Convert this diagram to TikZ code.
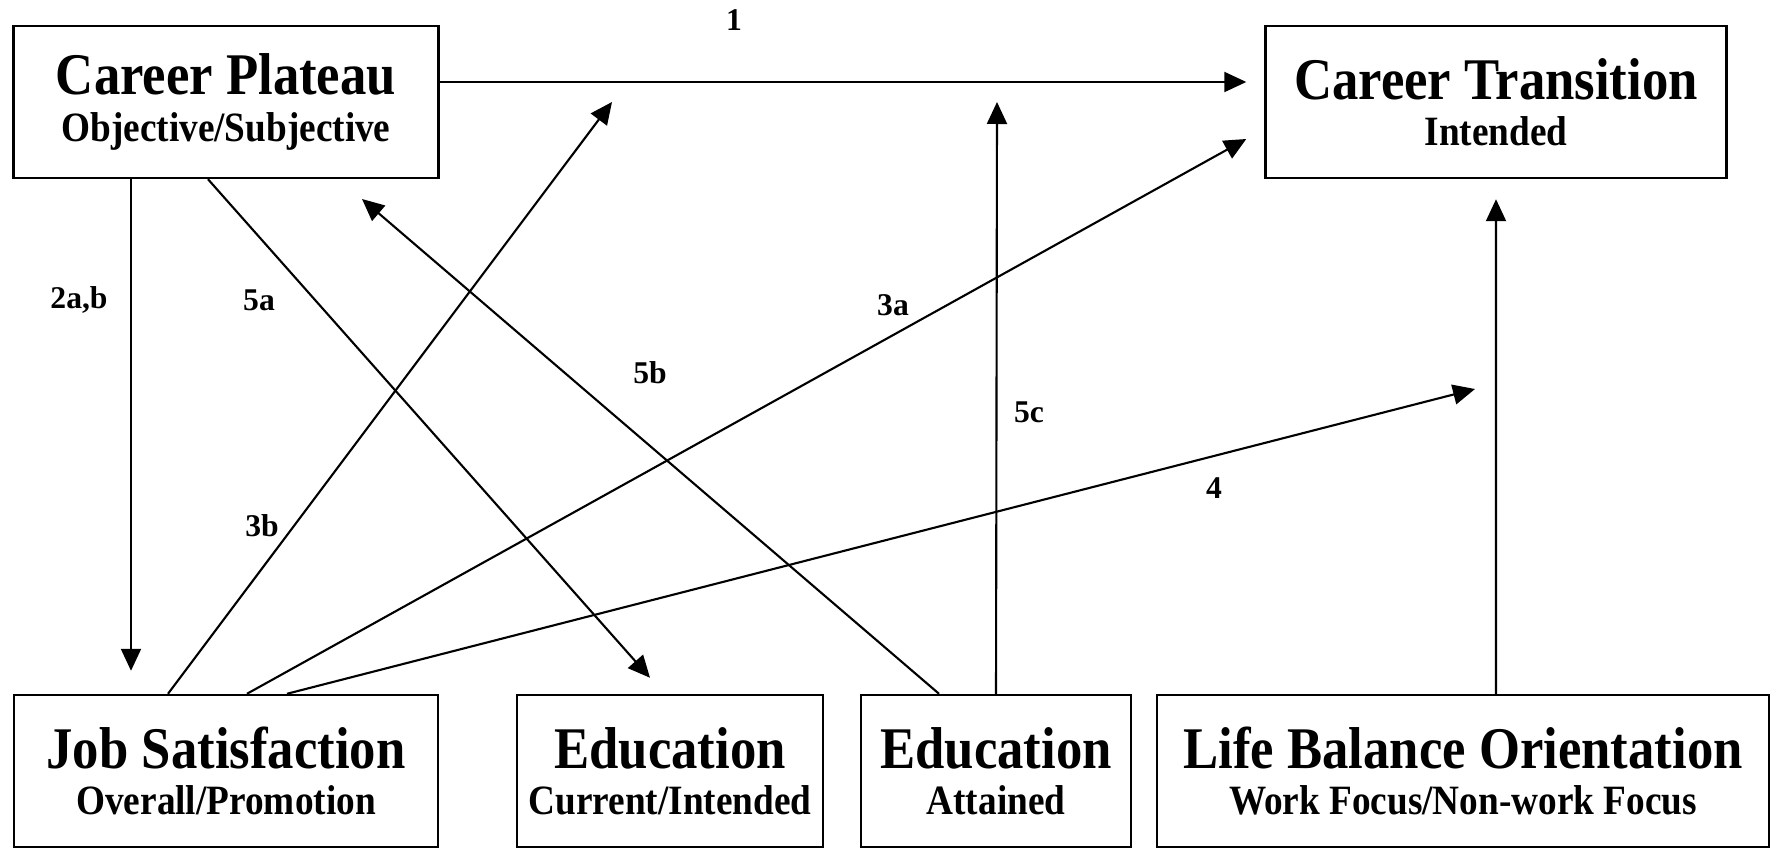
\documentclass[tikz,border=0pt]{standalone}
\usepackage{graphicx}
\usepackage{fontspec}
\setmainfont{Liberation Serif}
\usetikzlibrary{arrows.meta}

\tikzset{
    box/.style={draw, line width=0.7pt, minimum height=15.2mm, inner sep=0pt, align=center,
        font=\bfseries\fontsize{10.6}{13.2}\selectfont},
    arr/.style={line width=0.6pt, -{Triangle[length=2.2mm, width=2mm]}},
    lbl/.style={font=\bfseries\fontsize{9}{9}\selectfont},
}
\newcommand{\boxtitle}[1]{\scalebox{1}[1.12]{\fontsize{15}{15}\selectfont #1}}
\newcommand{\boxsub}[1]{\scalebox{1}[1.12]{#1}}

\begin{document}
\begin{tikzpicture}[x=0.1mm, y=-0.1mm]
            \useasboundingbox (0, 0) rectangle (1783, 851);
            \node[box, minimum width=42.5mm] (plateau) at (226, 102) {\boxtitle{Career Plateau}\\ \boxsub{Objective/Subjective}};
            \node[box, minimum width=46.1mm] (transition) at (1496, 102) {\boxtitle{Career Transition}\\ \boxsub{Intended}};
            \node[box, minimum width=42.4mm] (jobsat) at (226, 771) {\boxtitle{Job Satisfaction}\\ \boxsub{Overall/Promotion}};
            \node[box, minimum width=30.6mm] (educur) at (670, 771) {\boxtitle{Education}\\ \boxsub{Current/Intended}};
            \node[box, minimum width=27mm] (eduatt) at (996, 771) {\boxtitle{Education}\\ \boxsub{Attained}};
            \node[box, minimum width=61.2mm] (balance) at (1463, 771) {\boxtitle{Life Balance Orientation}\\ \boxsub{Work Focus/Non-work Focus}};
            \coordinate (tip3b) at (612, 102);
            \coordinate (tip5b) at (362, 199);
            \coordinate (tip5c) at (997, 102);
            \coordinate (tip4) at (1475, 389);
            \draw[arr] ([yshift=2mm]plateau.east) -- ([xshift=-1.8mm, yshift=2mm]transition.west);
            \draw[arr] ([xshift=-9.5mm]plateau.south) -- ([xshift=-9.5mm, yshift=2.3mm]jobsat.north);
            \draw[arr] ([xshift=-1.8mm]plateau.south) -- ([xshift=-2mm, yshift=1.6mm]educur.north);
            \draw[arr] ([xshift=-5.8mm]jobsat.north) -- (tip3b);
            \draw[arr] ([xshift=-5.7mm]eduatt.north) -- (tip5b);
            \draw[arr] ([xshift=2.1mm]jobsat.north) -- ([xshift=-1.8mm, yshift=-3.7mm]transition.west);
            \draw[arr] (eduatt.north) -- (tip5c);
            \draw[arr] ([xshift=6.1mm]jobsat.north) -- (tip4);
            \draw[arr] ([xshift=3.3mm]balance.north) -- ([yshift=-2mm]transition.south);
            \node[lbl] (l1) at (734, 20) {1};
            \node[lbl] (l2) at (79, 300) {2a,b};
            \node[lbl] (l5a) at (259, 300) {5a};
            \node[lbl] (l3b) at (262, 526) {3b};
            \node[lbl] (l5b) at (650, 373) {5b};
            \node[lbl] (l3a) at (893, 305) {3a};
            \node[lbl] (l5c) at (1029, 412) {5c};
            \node[lbl] (l4) at (1214, 488) {4};
        \end{tikzpicture}
\end{document}
